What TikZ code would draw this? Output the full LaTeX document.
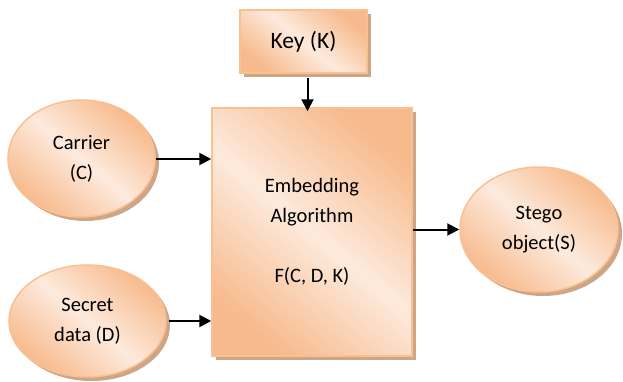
\documentclass[tikz,border=0pt]{standalone}
\usepackage{fontspec}
\setmainfont{Carlito}
\usetikzlibrary{shapes.geometric,shadows,arrows.meta}

\definecolor{orangeD}{RGB}{247,186,140}
\definecolor{orangeL}{RGB}{253,234,221}
\definecolor{edgeC}{RGB}{249,192,145}
\definecolor{shadowC}{RGB}{205,165,135}

\tikzset{
  shaded/.style={draw=edgeC, line width=1.5pt, top color=orangeD, bottom color=orangeD,
    middle color=orangeL, shading angle=-40,
    drop shadow={shadow xshift=4pt, shadow yshift=-4pt, fill=shadowC, opacity=1}},
  blob/.style={shaded, ellipse, inner sep=0pt, align=center,
    font=\fontsize{20.5}{30}\selectfont},
  boxy/.style={shaded, rectangle, inner sep=0pt, align=center},
  arr/.style={-{Triangle[length=12pt,width=12pt]}, line width=2pt}
}

\begin{document}
\begin{tikzpicture}[x=1pt,y=1pt]
    \useasboundingbox (0,0) rectangle (623,381);

    \node[boxy, minimum width=127pt, minimum height=63pt,
          font=\fontsize{23.5}{28}\selectfont] (key) at (303.5,339.5) {Key (K)};
    \node[boxy, minimum width=200pt, minimum height=248pt,
          font=\fontsize{20.5}{30}\selectfont] (algo) at (312,149)
          {Embedding\\Algorithm\\[30pt]F(C, D, K)};
    \node[blob, minimum width=147pt, minimum height=117pt] (carrier) at (81.5,222.5) {Carrier\\(C)};
    \node[blob, minimum width=157pt, minimum height=112pt] (secret) at (87.5,60) {Secret\\data (D)};
    \node[blob, minimum width=158pt, minimum height=125pt] (stego) at (539,151.5) {Stego\\object(S)};

    \draw[arr] ([xshift=4pt,yshift=-4pt]key.south) -- ([xshift=4pt,yshift=-4pt]key.south |- algo.north);
    \draw[arr] (carrier.east |- 0,222) -- (algo.west |- 0,222);
    \draw[arr] ([xshift=2pt]secret.east) -- (algo.west |- secret.east);
    \draw[arr] (algo.east |- stego.west) -- (stego.west);
\end{tikzpicture}
\end{document}
